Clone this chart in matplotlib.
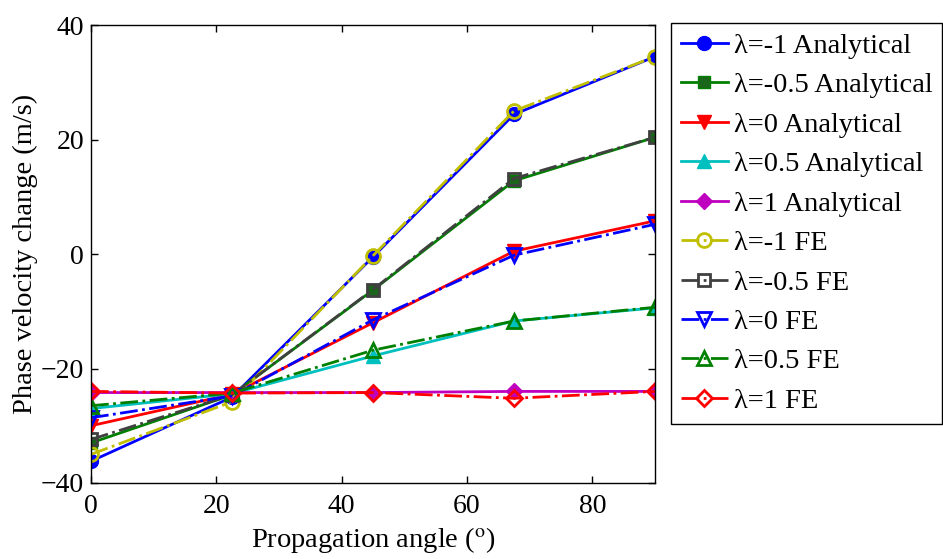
import numpy as np
import matplotlib.pyplot as plt

plt.rcParams['font.family'] = 'Liberation Serif'
plt.rcParams['mathtext.fontset'] = 'stix'

# propagation angles (degrees)
angle = [0, 22.5, 45, 67.5, 90]

# analytical phase velocity change (m/s)
ana_m1 = [-36.2, -25.0, -0.5, 24.4, 34.5]
ana_m05 = [-33.0, -24.6, -6.3, 12.8, 20.4]
ana_0 = [-30.0, -24.5, -12.0, 0.5, 5.8]
ana_05 = [-27.0, -24.4, -17.8, -11.7, -9.4]
ana_1 = [-24.2, -24.2, -24.2, -24.0, -24.0]

# finite element results (m/s)
fe_m1 = [-35.0, -25.8, -0.3, 25.0, 34.5]
fe_m05 = [-32.4, -24.6, -6.2, 13.2, 20.4]
fe_0 = [-28.6, -24.8, -11.5, -0.2, 5.2]
fe_05 = [-26.5, -24.3, -16.8, -11.7, -9.3]
fe_1 = [-24.0, -24.3, -24.2, -25.2, -24.0]

fig = plt.figure(figsize=(9.43, 5.59), dpi=100)
ax = fig.add_axes([0.0965, 0.136, 0.598, 0.819])

ax.plot(angle, ana_m1, '-o', color='b', lw=2, ms=10, label='λ=-1 Analytical')
ax.plot(angle, ana_m05, '-s', color=(0, 0.5, 0), mfc=(0.1, 0.4, 0.1), lw=2, ms=9, label='λ=-0.5 Analytical')
ax.plot(angle, ana_0, '-v', color='r', lw=2, ms=10, label='λ=0 Analytical')
ax.plot(angle, ana_05, '-^', color=(0, 0.75, 0.75), lw=2, ms=10, label='λ=0.5 Analytical')
ax.plot(angle, ana_1, '-D', color=(0.75, 0, 0.75), lw=2, ms=8, label='λ=1 Analytical')

ax.plot(angle, fe_m1, '-.o', color=(0.75, 0.75, 0), mfc='none', mew=2, lw=2, ms=10, label='λ=-1 FE')
ax.plot(angle, fe_m05, '-.s', color=(0.25, 0.25, 0.25), mfc='none', mew=2, lw=2, ms=8, label='λ=-0.5 FE')
ax.plot(angle, fe_0, '-.v', color='b', mfc='none', mew=2, lw=2, ms=10, label='λ=0 FE')
ax.plot(angle, fe_05, '-.^', color=(0, 0.5, 0), mfc='none', mew=2, lw=2, ms=10, label='λ=0.5 FE')
ax.plot(angle, fe_1, '-.D', color='r', mfc='none', mew=2, lw=2, ms=8, label='λ=1 FE')

ax.set_xlim(0, 90)
ax.set_ylim(-40, 40)
ax.set_xticks([0, 20, 40, 60, 80])
ax.set_yticks([-40, -20, 0, 20, 40])
ax.tick_params(direction='in', top=True, right=True, labelsize=20, length=5, width=1)
ax.tick_params(axis='x', pad=8)
ax.tick_params(axis='y', pad=5)
for s in ax.spines.values():
    s.set_linewidth(1)
ax.set_xlabel(r'Propagation angle ($^{\mathrm{o}}$)', fontsize=20.5, labelpad=4)
ax.set_ylabel('Phase velocity change (m/s)', fontsize=20.5, labelpad=2)

leg = fig.legend(loc='upper left', bbox_to_anchor=(0.7115, 0.959), fontsize=20.5,
                 numpoints=1, handlelength=1.65, fancybox=False, framealpha=1,
                 edgecolor='k', borderpad=0.35, labelspacing=0.475, handletextpad=0.2,
                 borderaxespad=0)
leg.get_frame().set_linewidth(1)

fig.savefig('out.png', dpi=100)
